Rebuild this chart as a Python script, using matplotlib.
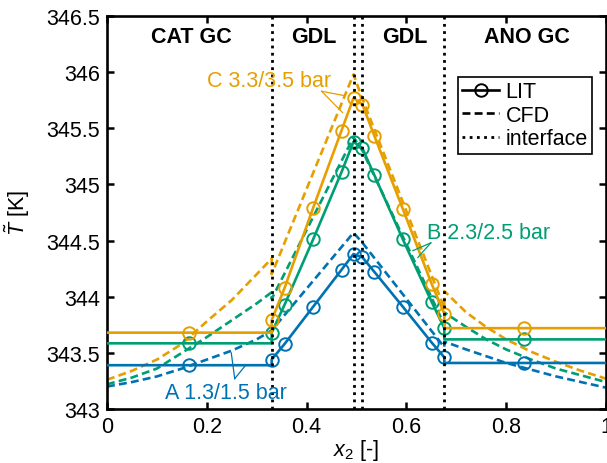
import matplotlib
matplotlib.use("Agg")
import matplotlib.pyplot as plt
from matplotlib.lines import Line2D
import numpy as np

plt.rcParams['font.family'] = ['Liberation Sans', 'DejaVu Sans']
plt.rcParams['mathtext.fontset'] = 'custom'
plt.rcParams['mathtext.it'] = 'Liberation Sans:italic'
plt.rcParams['mathtext.rm'] = 'Liberation Sans'

# ---------------- data ----------------
# LIT (lumped) profiles
x_lit = [0.0, 0.165, 0.33, 0.33, 0.356, 0.413, 0.47, 0.494, 0.512, 0.536,
         0.593, 0.651, 0.676, 0.676, 0.835, 1.0]
lit_markers = [1, 3, 4, 5, 6, 7, 8, 9, 10, 11, 12, 14]
T_lit_A = [343.39, 343.39, 343.39, 343.44, 343.58, 343.91, 344.24, 344.38,
           344.35, 344.22, 343.91, 343.59, 343.46, 343.41, 343.41, 343.41]
T_lit_B = [343.585, 343.585, 343.585, 343.68, 343.93, 344.51, 345.11, 345.38,
           345.32, 345.08, 344.51, 343.95, 343.72, 343.62, 343.62, 343.62]
T_lit_C = [343.68, 343.68, 343.68, 343.79, 344.08, 344.79, 345.48, 345.77,
           345.71, 345.43, 344.78, 344.11, 343.85, 343.72, 343.72, 343.72]

# CFD profiles
x_cfd = [0.0, 0.05, 0.1, 0.15, 0.2, 0.25, 0.3, 0.33,
         0.33, 0.494, 0.512, 0.676,
         0.676, 0.72, 0.76, 0.8, 0.85, 0.9, 0.95, 1.0]
T_cfd_A = [343.20, 343.24, 343.29, 343.36, 343.44, 343.52, 343.62, 343.70,
           343.70, 344.57, 344.48, 343.55,
           343.60, 343.53, 343.47, 343.41, 343.35, 343.29, 343.24, 343.19]
T_cfd_B = [343.22, 343.28, 343.36, 343.50, 343.64, 343.79, 343.94, 344.04,
           343.98, 345.42, 345.30, 343.75,
           343.86, 343.73, 343.62, 343.53, 343.44, 343.36, 343.30, 343.24]
T_cfd_C = [343.26, 343.34, 343.44, 343.58, 343.78, 343.97, 344.20, 344.34,
           344.20, 345.98, 345.76, 343.90,
           344.05, 343.86, 343.73, 343.62, 343.51, 343.42, 343.34, 343.27]

interfaces = [0.33, 0.494, 0.512, 0.676]
regions = ["CAT GC", "GDL", "GDL", "ANO GC"]
region_x = [0.17, 0.414, 0.596, 0.842]
case_labels = ["A 1.3/1.5 bar", "B 2.3/2.5 bar", "C 3.3/3.5 bar"]
colors = ["#0072B2", "#009E73", "#E69F00"]

xticks = [0, 0.2, 0.4, 0.6, 0.8, 1]
xticklabels = ["0", "0.2", "0.4", "0.6", "0.8", "1"]
yticks = [343, 343.5, 344, 344.5, 345, 345.5, 346, 346.5]
yticklabels = ["343", "343.5", "344", "344.5", "345", "345.5", "346", "346.5"]

# annotation geometry (text anchor, line start, line ends)
ann_text_pos = [(0.116, 343.15), (0.642, 344.57), (0.20, 345.93)]
ann_start = [(0.256, 343.27), (0.649, 344.48), (0.43, 345.83)]
ann_ends = [[(0.249, 343.50), (0.276, 343.38)],
            [(0.613, 344.41), (0.623, 344.35)],
            [(0.476, 345.79), (0.472, 345.64)]]

# ---------------- plot ----------------
FS = 15.5
fig = plt.figure(figsize=(6.07, 4.64), dpi=100)
ax = fig.add_axes([107 / 607, 54 / 464, 499 / 607, 393 / 464])

lw = 1.9
dash = (0, (3.0, 1.6))
for T_lit, T_cfd, c in zip([T_lit_A, T_lit_B, T_lit_C],
                           [T_cfd_A, T_cfd_B, T_cfd_C], colors):
    ax.plot(x_cfd, T_cfd, color=c, lw=lw, linestyle=dash, zorder=2)
    ax.plot(x_lit, T_lit, color=c, lw=lw, marker='o', markevery=lit_markers,
            markersize=9, markerfacecolor='none', markeredgewidth=1.4,
            zorder=3)

for xi in interfaces:
    ax.axvline(xi, color='black', lw=2.0, linestyle=(0, (1, 1.6)), zorder=5)

for name, xr in zip(regions, region_x):
    ax.text(xr, 346.32, name, ha='center', va='center', fontsize=FS,
            fontweight='bold')

for lab, pos, st, ends, c in zip(case_labels, ann_text_pos, ann_start,
                                  ann_ends, colors):
    ax.text(pos[0], pos[1], lab, color=c, fontsize=FS, ha='left',
            va='center', zorder=6)
    for e in ends:
        ax.plot([st[0], e[0]], [st[1], e[1]], color=c, lw=0.9, zorder=6)

ax.set_xlim(0, 1)
ax.set_ylim(343, 346.5)
ax.set_xticks(xticks)
ax.set_xticklabels(xticklabels)
ax.set_yticks(yticks)
ax.set_yticklabels(yticklabels)
ax.tick_params(direction='in', length=5, width=1.8, labelsize=FS,
               top=True, right=True, pad=5)
for sp in ax.spines.values():
    sp.set_linewidth(1.9)

ax.set_xlabel(r"$x_2$ [-]", fontsize=FS, labelpad=0)
ax.set_ylabel(r"$\tilde{T}$ [K]", fontsize=FS, labelpad=10)

handles = [
    Line2D([], [], color='black', lw=lw, marker='o', markersize=9,
           markerfacecolor='none', markeredgewidth=1.4),
    Line2D([], [], color='black', lw=lw, linestyle=dash),
    Line2D([], [], color='black', lw=2.0, linestyle=(0, (1, 1.6))),
]
leg = ax.legend(handles, ["LIT", "CFD", "interface"], loc='upper right',
                bbox_to_anchor=(0.972, 0.845), fontsize=FS, frameon=True,
                fancybox=False, framealpha=1, edgecolor='black',
                handlelength=1.7, handletextpad=0.3, labelspacing=0.12,
                borderpad=0.2, borderaxespad=0)
leg.get_frame().set_linewidth(1.2)
leg.set_zorder(10)

fig.savefig("out.png", dpi=100)
